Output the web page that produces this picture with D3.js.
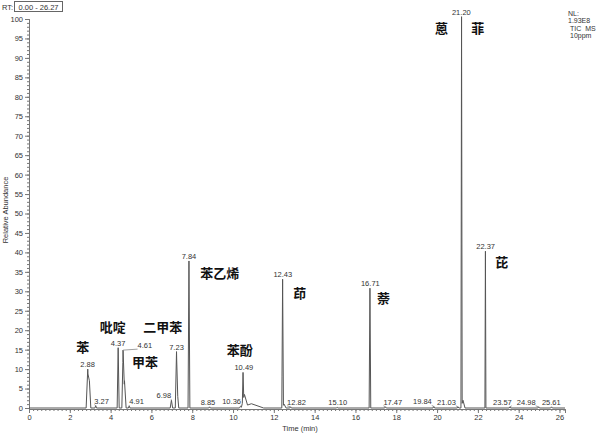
<!doctype html>
<html>
<head>
<meta charset="utf-8"/>
<script src="https://d3js.org/d3.v7.min.js"></script>
<style>
  body { margin: 0; background: #fff; }
  svg text { font-family: "Liberation Sans", Arial, sans-serif; fill: #333; }
  .cn { font-family: "Noto Sans CJK SC", sans-serif; font-weight: bold; fill: #111; }
</style>
</head>
<body>
<svg id="chart"></svg>
<script>
// peaks (retention time, relative abundance, half base width in min)
var peakTimes   = [2.88, 3.27, 4.37, 4.61, 4.91, 6.98, 7.23, 7.84, 8.85, 10.36, 10.49, 12.43, 12.82, 15.10, 16.71, 17.47, 19.84, 21.03, 21.20, 22.37, 23.57, 24.98, 25.61];
var peakHeights = [10, 0.6, 15.5, 14, 0.5, 2, 14.5, 37.8, 0.3, 0.3, 7.2, 32.8, 0.3, 0.2, 30.8, 0.3, 0.4, 0.3, 100, 40.3, 0.3, 0.3, 0.3];
var peakWidths  = [0.08, 0.04, 0.05, 0.06, 0.04, 0.06, 0.06, 0.045, 0.04, 0.04, 0.035, 0.04, 0.04, 0.04, 0.04, 0.04, 0.04, 0.04, 0.03, 0.025, 0.04, 0.04, 0.04];
// where each retention time label sits (min)
var labelTimes  = [2.87, 3.56, 4.37, 5.68, 5.27, 6.61, 7.23, 7.84, 8.77, 9.93, 10.53, 12.44, 13.11, 15.13, 16.73, 17.83, 19.28, 20.46, 21.19, 22.38, 23.20, 24.37, 25.60];

// unlabeled shoulders and tails
var shoulderTimes   = [2.96, 4.68, 7.29, 10.56, 10.9, 12.5, 21.27];
var shoulderHeights = [7, 7, 3, 3, 1.1, 1, 2];
var shoulderWidths  = [0.07, 0.08, 0.05, 0.15, 0.6, 0.1, 0.1];

// compound names (label centre in min / %)
var compounds     = ["苯", "吡啶", "甲苯", "二甲苯", "苯乙烯", "苯酚", "茚", "萘", "蒽", "菲", "芘"];
var compoundTimes = [2.64, 4.11, 5.68, 6.56, 9.35, 10.33, 13.27, 17.38, 20.22, 21.99, 23.17];
var compoundAbund = [15.7, 20.8, 11.8, 20.8, 34.7, 14.9, 29.6, 28.3, 97.7, 97.7, 37.5];

var xTicks = d3.range(0, 27, 2);
var yTicks = d3.range(0, 101, 5);

var width = 600, height = 434;
var svg = d3.select("#chart").attr("width", width).attr("height", height);

var x = d3.scaleLinear().domain([0, 26.27]).range([29, 565]);
var y = d3.scaleLinear().domain([0, 100]).range([408, 19]);

// axes
var xAxis = d3.axisBottom(x).tickValues(xTicks).tickFormat(d3.format("d")).tickSize(4).tickPadding(2);
var xMinor = d3.axisBottom(x).tickValues(d3.range(0, 26.27, 0.2)).tickFormat("").tickSize(2);
var yAxis = d3.axisLeft(y).tickValues(yTicks).tickFormat(d3.format("d")).tickSize(4).tickPadding(2);
var yMinor = d3.axisLeft(y).tickValues(d3.range(0, 101, 1)).tickFormat("").tickSize(2);

function styleAxis(g) {
  g.select(".domain").attr("stroke", "#777");
  g.selectAll(".tick line").attr("stroke", "#777");
  g.selectAll("text").attr("font-size", "7.5px").attr("fill", "#333");
}

svg.append("g").attr("transform", "translate(0,409)").call(xMinor).call(styleAxis);
svg.append("g").attr("transform", "translate(0,409)").call(xAxis).call(styleAxis);
svg.append("g").attr("transform", "translate(29,0)").call(yMinor).call(styleAxis);
svg.append("g").attr("transform", "translate(29,0)").call(yAxis).call(styleAxis);

// trace: sum of triangular peaks, evaluated at every vertex
var peaks = peakTimes.map(function (t, i) { return [t, peakHeights[i], peakWidths[i]]; })
  .concat(shoulderTimes.map(function (t, i) { return [t, shoulderHeights[i], shoulderWidths[i]]; }));
var verts = [0, 26.27];
peaks.forEach(function (p) { verts.push(p[0] - p[2], p[0], p[0] + p[2]); });
verts.sort(d3.ascending);
function valueAt(t) {
  var s = 0;
  peaks.forEach(function (p) {
    var d = Math.abs(t - p[0]);
    if (d < p[2]) s += p[1] * (1 - d / p[2]);
  });
  return s;
}
var trace = verts.map(function (t) { return [t, valueAt(t)]; });

svg.append("path")
  .datum(trace)
  .attr("fill", "none")
  .attr("stroke", "#555")
  .attr("stroke-width", 1)
  .attr("d", d3.line().x(function (d) { return x(d[0]); }).y(function (d) { return y(d[1]); }));

// retention time labels
peakTimes.forEach(function (t, i) {
  var px = x(t), py = y(valueAt(t));
  var by = Math.min(py - 2, 405);
  var lbl = svg.append("text")
    .attr("x", x(labelTimes[i]))
    .attr("y", by)
    .attr("text-anchor", "middle")
    .attr("font-size", "7.5px")
    .text(t.toFixed(2));
  if (Math.abs(labelTimes[i] - t) > 0.1) {
    var hw = lbl.node().getComputedTextLength() / 2;
    var ex = labelTimes[i] > t ? x(labelTimes[i]) - hw : x(labelTimes[i]) + hw;
    svg.append("line")
      .attr("x1", px).attr("y1", py)
      .attr("x2", ex).attr("y2", by + 1)
      .attr("stroke", "#888").attr("stroke-width", 0.8);
  }
});

// compound names
compounds.forEach(function (c, i) {
  svg.append("text")
    .attr("class", "cn")
    .attr("x", x(compoundTimes[i]))
    .attr("y", y(compoundAbund[i]))
    .attr("dy", "0.36em")
    .attr("text-anchor", "middle")
    .attr("font-size", "13px")
    .text(c);
});

// axis titles
svg.append("text")
  .attr("x", 300).attr("y", 431)
  .attr("text-anchor", "middle")
  .attr("font-size", "7.5px")
  .text("Time (min)");
svg.append("text")
  .attr("transform", "translate(8,210) rotate(-90)")
  .attr("text-anchor", "middle")
  .attr("font-size", "7.5px")
  .text("Relative Abundance");

// header
svg.append("text").attr("x", 2).attr("y", 10).attr("font-size", "7.5px").text("RT:");
svg.append("rect").attr("x", 14.5).attr("y", 1.5).attr("width", 48).attr("height", 10)
  .attr("fill", "none").attr("stroke", "#666").attr("stroke-width", 1);
svg.append("text").attr("x", 38.5).attr("y", 9.5).attr("text-anchor", "middle").attr("font-size", "7.5px").text("0.00 - 26.27");

var info = ["NL:", "1.93E8", "TIC  MS", "10ppm"];
svg.selectAll(".info").data(info).enter().append("text")
  .attr("x", function (d, i) { return i < 2 ? 568 : 570; })
  .attr("y", function (d, i) { return 16 + i * 7.3; })
  .attr("font-size", "7px")
  .style("white-space", "pre")
  .text(function (d) { return d; });
</script>
</body>
</html>
